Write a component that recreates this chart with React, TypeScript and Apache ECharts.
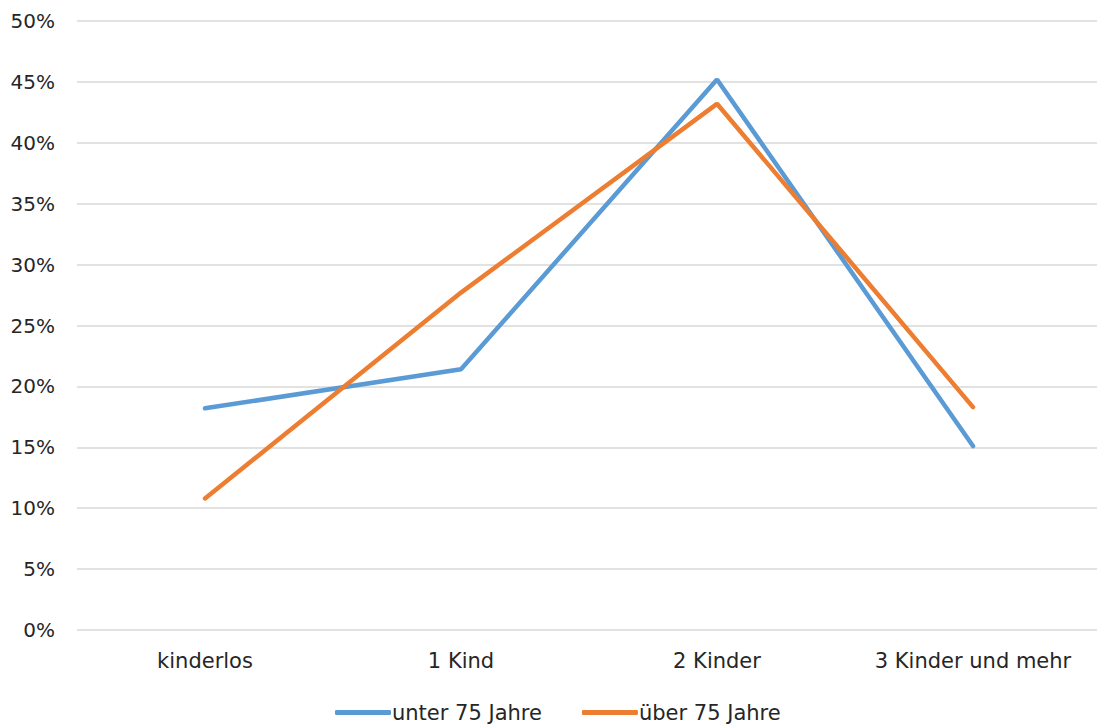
import React, { useEffect, useRef } from "react";
import * as echarts from "echarts";

const categories = ["kinderlos", "1 Kind", "2 Kinder", "3 Kinder und mehr"];
const unter75 = [18.2, 21.4, 45.2, 15.1];
const ueber75 = [10.8, 27.7, 43.2, 18.3];
const seriesNames = ["unter 75 Jahre", "über 75 Jahre"];

const FONT = "'Century Gothic', 'DejaVu Sans', sans-serif";
const TEXT_COLOR = "#262626";

export default function App() {
  const ref = useRef<HTMLDivElement>(null);

  useEffect(() => {
    if (!ref.current) return;
    const chart = echarts.init(ref.current, undefined, { renderer: "svg" });
    chart.setOption({
      animation: false,
      backgroundColor: "#ffffff",
      grid: { left: 77, right: 0, top: 21, bottom: 94 },
      legend: {
        bottom: -4,
        left: 330,
        itemWidth: 56,
        itemHeight: 5,
        itemGap: 40,
        icon: "roundRect",
        textStyle: { fontFamily: FONT, fontSize: 21, color: TEXT_COLOR, padding: [0, 0, 0, -4] },
        data: seriesNames,
      },
      xAxis: {
        type: "category",
        data: categories,
        boundaryGap: true,
        axisLine: { show: false },
        axisTick: { show: false },
        axisLabel: { fontFamily: FONT, fontSize: 21, color: TEXT_COLOR, margin: 20, interval: 0 },
      },
      yAxis: {
        type: "value",
        min: 0,
        max: 50,
        interval: 5,
        axisLine: { show: false },
        axisTick: { show: false },
        splitLine: { lineStyle: { color: "#d9d9d9", width: 1.5 } },
        axisLabel: {
          fontFamily: FONT,
          fontSize: 20,
          color: TEXT_COLOR,
          margin: 22,
          formatter: (v: number) => `${v}%`,
        },
      },
      series: [
        {
          name: seriesNames[0],
          type: "line",
          data: unter75,
          symbol: "none",
          lineStyle: { color: "#5b9bd5", width: 4.5, cap: "round" },
          itemStyle: { color: "#5b9bd5" },
        },
        {
          name: seriesNames[1],
          type: "line",
          data: ueber75,
          symbol: "none",
          lineStyle: { color: "#ed7d31", width: 4.5, cap: "round" },
          itemStyle: { color: "#ed7d31" },
        },
      ],
    });
    return () => chart.dispose();
  }, []);

  return (
    <div
      ref={ref}
      style={{ position: "fixed", left: 0, top: 0, width: 1101, height: 724 }}
    />
  );
}
